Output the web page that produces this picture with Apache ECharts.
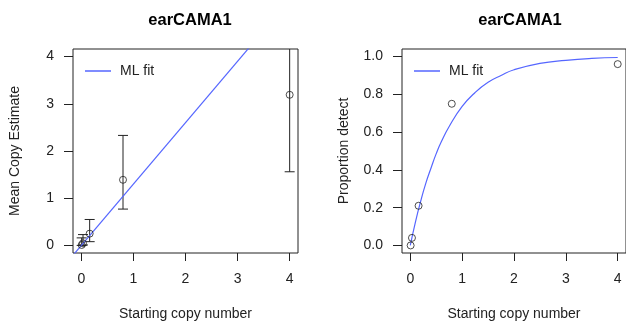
<!DOCTYPE html>
<html>
<head>
<meta charset="utf-8">
<script src="https://cdn.jsdelivr.net/npm/echarts@6/dist/echarts.min.js"></script>
<style>
  html, body { margin: 0; padding: 0; background: #fff; }
  #main { width: 626px; height: 327px; }
</style>
</head>
<body>
<div id="main"></div>
<script>
const chart = echarts.init(document.getElementById('main'))

// dilution series (starting copy number)
const startCopies = [0.0064, 0.032, 0.16, 0.8, 4]
// left panel: mean copy estimate with interval
const meanCopy = [0.01, 0.045, 0.25, 1.39, 3.19]
const meanLow = [0.0, 0.01, 0.08, 0.77, 1.56]
const meanHigh = [0.16, 0.23, 0.55, 2.33, 4.6]
// ML fit line (left panel)
const fitLineX = [-0.2, 3.4]
const fitLineY = [-0.26, 4.42]
// right panel: proportion detect
const propDetect = [0.0, 0.04, 0.21, 0.75, 0.96]
// ML fit curve (right panel)
const fitCurveX = [0, 0.1, 0.2, 0.3, 0.4, 0.5, 0.6, 0.75, 1, 1.25, 1.5, 1.75, 2, 2.5, 3, 3.5, 4]
const fitCurveY = [0, 0.125, 0.234, 0.33, 0.41, 0.486, 0.55, 0.63, 0.736, 0.81, 0.864, 0.90, 0.93, 0.964, 0.98, 0.99, 0.995]

const xTicks = [0, 1, 2, 3, 4]
const yTicksLeft = [0, 1, 2, 3, 4]
const yTicksRight = [0, 0.2, 0.4, 0.6, 0.8, 1.0]

const font = 'Liberation Sans, Arial, Helvetica, sans-serif'
const ink = '#222'
const blue = '#5566ff'

const zip = (a, b) => a.map((v, i) => [v, b[i]])

function xAxisCfg(gridIndex) {
  return {
    type: 'value',
    gridIndex: gridIndex,
    min: -0.16,
    max: 4.16,
    name: 'Starting copy number',
    nameLocation: 'middle',
    nameGap: 54,
    nameTextStyle: { color: ink, fontSize: 14, fontFamily: font },
    axisLine: { show: false, onZero: false },
    splitLine: { show: false },
    axisTick: { show: true, inside: false, length: 8, customValues: xTicks, lineStyle: { color: ink } },
    axisLabel: { customValues: xTicks, margin: 19, color: ink, fontSize: 14, fontFamily: font }
  }
}

function yAxisCfg(gridIndex, name, min, max, ticks, fmt) {
  return {
    type: 'value',
    gridIndex: gridIndex,
    min: min,
    max: max,
    name: name,
    nameLocation: 'middle',
    nameGap: 51,
    nameTextStyle: { color: ink, fontSize: 14, fontFamily: font },
    axisLine: { show: false, onZero: false },
    splitLine: { show: false },
    axisTick: { show: true, inside: false, length: 9, customValues: ticks, lineStyle: { color: ink } },
    axisLabel: { customValues: ticks, margin: 19, color: ink, fontSize: 14, fontFamily: font, formatter: fmt }
  }
}

// error bars with caps
function renderErr(params, api) {
  let x = api.value(0)
  let lo = api.coord([x, api.value(1)])
  let hi = api.coord([x, api.value(2)])
  let w = 5
  let style = { stroke: ink, lineWidth: 1 }
  return {
    type: 'group',
    children: [
      { type: 'line', shape: { x1: lo[0], y1: lo[1], x2: hi[0], y2: hi[1] }, style: style },
      { type: 'line', shape: { x1: lo[0] - w, y1: lo[1], x2: lo[0] + w, y2: lo[1] }, style: style },
      { type: 'line', shape: { x1: hi[0] - w, y1: hi[1], x2: hi[0] + w, y2: hi[1] }, style: style }
    ]
  }
}

let legendCfg = (left) => ({
  data: ['ML fit'], left: left, top: 59, icon: 'rect', itemWidth: 26, itemHeight: 1.5,
  itemGap: 8, itemStyle: { color: blue },
  textStyle: { color: ink, fontSize: 14, fontFamily: font, padding: [0, 0, 0, 4] }
})

let option = {
  backgroundColor: '#fff',
  animation: false,
  title: [
    { text: 'earCAMA1', left: 185, top: 7, textAlign: 'center',
      textStyle: { color: '#000', fontSize: 16.5, fontWeight: 'bold', fontFamily: font } },
    { text: 'earCAMA1', left: 515, top: 7, textAlign: 'center',
      textStyle: { color: '#000', fontSize: 16.5, fontWeight: 'bold', fontFamily: font } }
  ],
  legend: [legendCfg(80), legendCfg(409)],
  grid: [
    { left: 73, right: 328, top: 49, bottom: 74, show: true, borderColor: ink, borderWidth: 1, backgroundColor: 'transparent' },
    { left: 402, right: -1, top: 49, bottom: 74, show: true, borderColor: ink, borderWidth: 1, backgroundColor: 'transparent' }
  ],
  xAxis: [xAxisCfg(0), xAxisCfg(1)],
  yAxis: [
    yAxisCfg(0, 'Mean Copy Estimate', -0.16, 4.16, yTicksLeft, v => String(v)),
    yAxisCfg(1, 'Proportion detect', -0.04, 1.04, yTicksRight, v => v.toFixed(1))
  ],
  series: [
    {
      name: 'ML fit', type: 'line', xAxisIndex: 0, yAxisIndex: 0,
      data: zip(fitLineX, fitLineY), symbol: 'none', clip: true,
      lineStyle: { color: blue, width: 1.2 }, itemStyle: { color: blue }
    },
    {
      type: 'custom', xAxisIndex: 0, yAxisIndex: 0, clip: true,
      renderItem: renderErr,
      data: startCopies.map((x, i) => [x, meanLow[i], meanHigh[i]]),
      z: 3
    },
    {
      type: 'scatter', xAxisIndex: 0, yAxisIndex: 0,
      data: zip(startCopies, meanCopy), symbol: 'circle', symbolSize: 7,
      itemStyle: { color: 'rgba(0,0,0,0)', borderColor: ink, borderWidth: 1 }, z: 4
    },
    {
      name: 'ML fit', type: 'line', xAxisIndex: 1, yAxisIndex: 1,
      data: zip(fitCurveX, fitCurveY), symbol: 'none', smooth: true, clip: true,
      lineStyle: { color: blue, width: 1.2 }, itemStyle: { color: blue }
    },
    {
      type: 'scatter', xAxisIndex: 1, yAxisIndex: 1,
      data: zip(startCopies, propDetect), symbol: 'circle', symbolSize: 7,
      itemStyle: { color: 'rgba(0,0,0,0)', borderColor: ink, borderWidth: 1 }, z: 4
    }
  ]
}
chart.setOption(option)
</script>
</body>
</html>
